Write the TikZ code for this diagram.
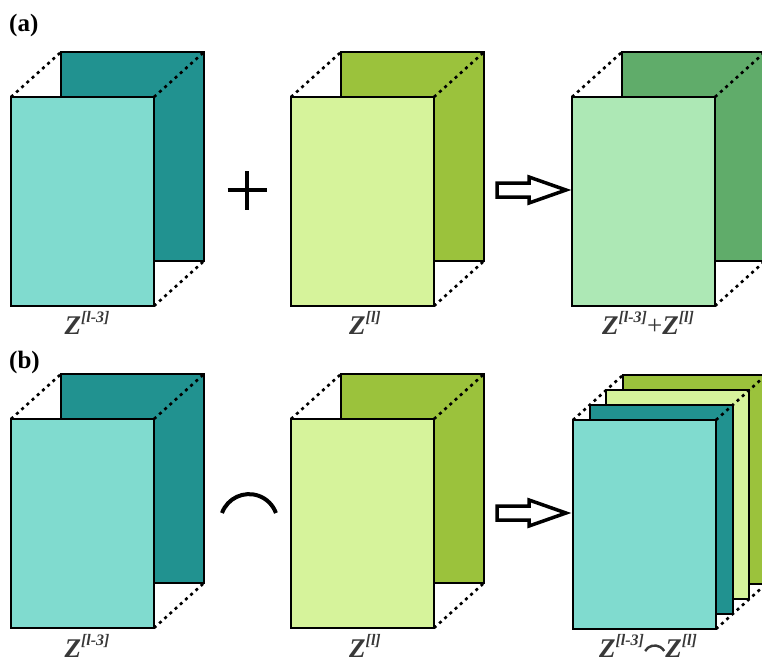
\documentclass[tikz,border=0pt]{standalone}
\usepackage{fontspec}
\setmainfont{Liberation Serif}
\definecolor{teallight}{HTML}{80DBCF}
\definecolor{tealdark}{HTML}{219290}
\definecolor{limelight}{HTML}{D6F39B}
\definecolor{olive}{HTML}{9BC23C}
\definecolor{mint}{HTML}{ADE8B5}
\definecolor{leaf}{HTML}{60AC6A}
\definecolor{labelgray}{HTML}{383838}
% italic symbol Z with a bracketed superscript
\newcommand{\zsym}[1]{\textbf{\textit{Z}}\raisebox{0.42em}{\fontsize{16}{16}\selectfont\textbf{\textit{[#1]}}}}
% concatenation sign inside a label
\newcommand{\catsign}{\tikz[x=1pt,y=1pt,baseline=0pt]{\draw[line width=2.4pt, labelgray] (0,6) arc[start angle=150, end angle=30, radius=11pt];}}
\tikzset{
  sheet/.style={draw=black, line width=2pt, minimum width=143pt, minimum height=209pt,
    inner sep=0pt, outer sep=0pt, anchor=north west},
  hid/.style={line width=2.6pt, dash pattern=on 3pt off 4pt},
  lbl/.style={text=labelgray, font=\fontsize{27}{27}\selectfont, inner sep=0pt, anchor=base},
  panel/.style={font=\fontsize{25}{25}\selectfont\bfseries, inner sep=0pt, anchor=base west},
  opsign/.style={line width=4pt},
  blockarrow/.style={draw=black, line width=3.5pt, fill=white, line join=miter}
}
\begin{document}
\begin{tikzpicture}[x=1pt,y=-1pt]
\useasboundingbox (0,0) rectangle (762,662);
\clip (0,0) rectangle (762,662);

% ---------- (a) ----------
\node[panel] (pa) at (9,31) {(a)};

\node[sheet, fill=tealdark] (a1b) at (61,52) {};
\node[sheet, fill=teallight] (a1f) at (11,97) {};
\draw[hid] (a1f.north west) -- (a1b.north west);
\draw[hid] (a1f.north east) -- (a1b.north east);
\draw[hid] (a1f.south east) -- (a1b.south east);
\node[lbl] (la1) at (87,334) {\zsym{l-3}};

\node (plus) at (247,190) {};
\draw[opsign] ([xshift=-19.5pt]plus.center) -- ([xshift=19.5pt]plus.center);
\draw[opsign] ([yshift=-19.5pt]plus.center) -- ([yshift=19.5pt]plus.center);

\node[sheet, fill=olive] (a2b) at (341,52) {};
\node[sheet, fill=limelight] (a2f) at (291,97) {};
\draw[hid] (a2f.north west) -- (a2b.north west);
\draw[hid] (a2f.north east) -- (a2b.north east);
\draw[hid] (a2f.south east) -- (a2b.south east);
\node[lbl] (la2) at (365,334) {\zsym{l}};

\draw[blockarrow] (497,183) -- (529,183) -- (529,177) -- (566,190) -- (529,203) -- (529,197) -- (497,197) -- cycle;

\node[sheet, fill=leaf] (a3b) at (622,52) {};
\node[sheet, fill=mint] (a3f) at (572,97) {};
\draw[hid] (a3f.north west) -- (a3b.north west);
\draw[hid] (a3f.north east) -- (a3b.north east);
\draw[hid] (a3f.south east) -- (a3b.south east);
\node[lbl] (la3) at (648,334) {\zsym{l-3}+\zsym{l}};

% ---------- (b) ----------
\node[panel] (pb) at (9,368) {(b)};

\node[sheet, fill=tealdark] (b1b) at (61,374) {};
\node[sheet, fill=teallight] (b1f) at (11,419) {};
\draw[hid] (b1f.north west) -- (b1b.north west);
\draw[hid] (b1f.north east) -- (b1b.north east);
\draw[hid] (b1f.south east) -- (b1b.south east);
\node[lbl] (lb1) at (87,657) {\zsym{l-3}};

\draw[opsign] (222,513) arc[start angle=160, end angle=20, radius=28.7pt];

\node[sheet, fill=olive] (b2b) at (341,374) {};
\node[sheet, fill=limelight] (b2f) at (291,419) {};
\draw[hid] (b2f.north west) -- (b2b.north west);
\draw[hid] (b2f.north east) -- (b2b.north east);
\draw[hid] (b2f.south east) -- (b2b.south east);
\node[lbl] (lb2) at (365,657) {\zsym{l}};

\draw[blockarrow] (497,506) -- (529,506) -- (529,500) -- (566,513) -- (529,526) -- (529,520) -- (497,520) -- cycle;

% stacked result: four sheets, back to front
\node[sheet, fill=olive] (s4) at (623,375) {};
\node[sheet, fill=limelight] (s3) at (606.3,390) {};
\node[sheet, fill=tealdark] (s2) at (589.7,405) {};
\node[sheet, fill=teallight] (s1) at (573,420) {};
\draw[hid] (s1.north west) -- (s4.north west);
\draw[hid] (s1.north east) -- (s4.north east);
\draw[hid] (s1.south east) -- (s4.south east);
\node[lbl] (lb3) at (648,657) {\zsym{l-3}\catsign\zsym{l}};
\end{tikzpicture}
\end{document}
